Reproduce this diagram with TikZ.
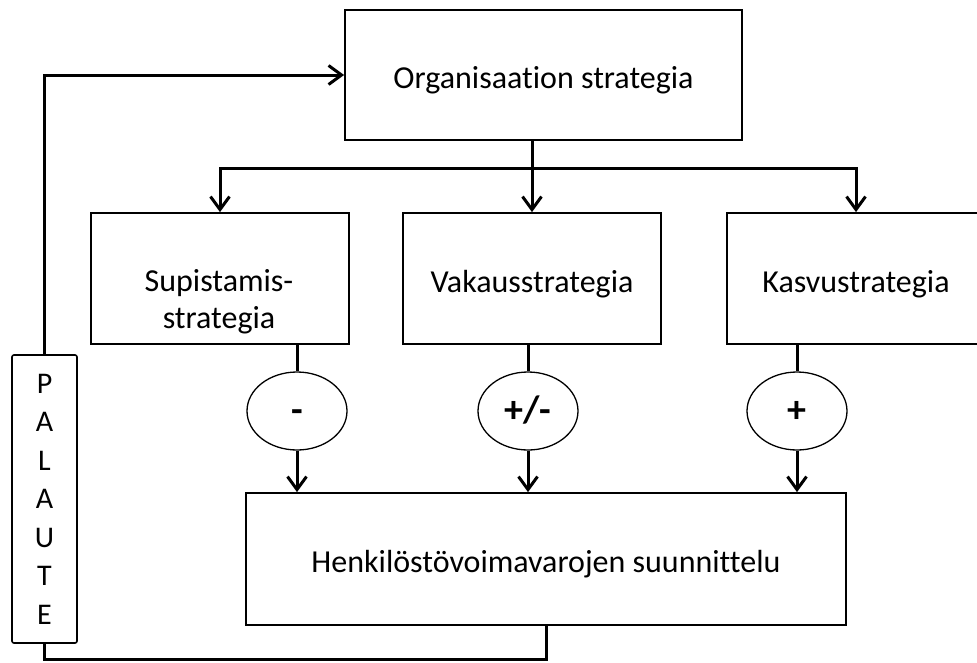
\documentclass[tikz,border=0pt]{standalone}
\usepackage{fontspec}
\setmainfont[Ligatures=NoCommon]{Carlito}
\usetikzlibrary{arrows.meta, positioning, shapes.geometric}
\tikzset{
  stratbox/.style={draw, line width=1.8pt, inner sep=0pt, text height=27pt, text depth=0pt, font=\fontsize{32}{37}\selectfont, align=center},
  signnode/.style={ellipse, draw, line width=1.3pt, fill=white, inner sep=0pt, minimum width=100pt, minimum height=78pt, text height=22pt, text depth=0pt, font=\fontsize{38}{40}\selectfont\bfseries},
  palbox/.style={draw, line width=1.6pt, rounded corners=2pt, fill=white, inner sep=0pt, minimum width=65pt, minimum height=288pt, align=center, font=\fontsize{30}{38.5}\selectfont},
  flowline/.style={line width=3pt},
  flowarrow/.style={flowline, -{Straight Barb[length=13pt, width=19pt]}},
}
\begin{document}
\begin{tikzpicture}[x=1pt, y=-1pt]
  \useasboundingbox (0,0) rectangle (977,662);
  % strategy boxes
  \node[stratbox, minimum width=397pt, minimum height=130pt] (org) at (543.5,75) {Organisaation strategia};
  \node[stratbox, minimum width=258pt, minimum height=131pt] (sup) at (220,278.5) {};
  \node[font=\fontsize{32}{37}\selectfont, align=center] (supt) at (219,302) {Supistamis-\\strategia};
  \node[stratbox, minimum width=258pt, minimum height=131pt] (vak) at (532,278.5) {Vakausstrategia};
  \node[stratbox, minimum width=258pt, minimum height=131pt] (kas) at (856,278.5) {Kasvustrategia};
  \node[stratbox, minimum width=600pt, minimum height=132pt] (hen) at (546,559) {Henkilöstövoimavarojen suunnittelu};
  % effect on personnel
  \node[signnode] (minus) at (297,411) {-};
  \node[signnode] (pm) at (528,411) {+/-};
  \node[signnode] (plus) at (797,411) {+};
  % branches
  \coordinate (br) at (0,168);
  \draw[flowarrow] (org.south -| vak.north) -- (vak.north);
  \draw[flowarrow] (br -| vak.north) -| (sup.north);
  \draw[flowarrow] (br -| vak.north) -| (kas.north);
  \foreach \s/\b in {minus/sup,pm/vak,plus/kas} {
    \draw[flowline] (\s.north |- \b.south) -- (\s.north);
    \draw[flowarrow] (\s.south) -- (\s.south |- hen.north);
  }
  % feedback
  \node[palbox] (pal) at (44.5,499) {P\\A\\L\\A\\U\\T\\E};
  \draw[flowline] (hen.south) |- ([yshift=-16pt]pal.south) -- (pal.south);
  \draw[flowarrow] (pal.north) |- (org.west);
\end{tikzpicture}
\end{document}
